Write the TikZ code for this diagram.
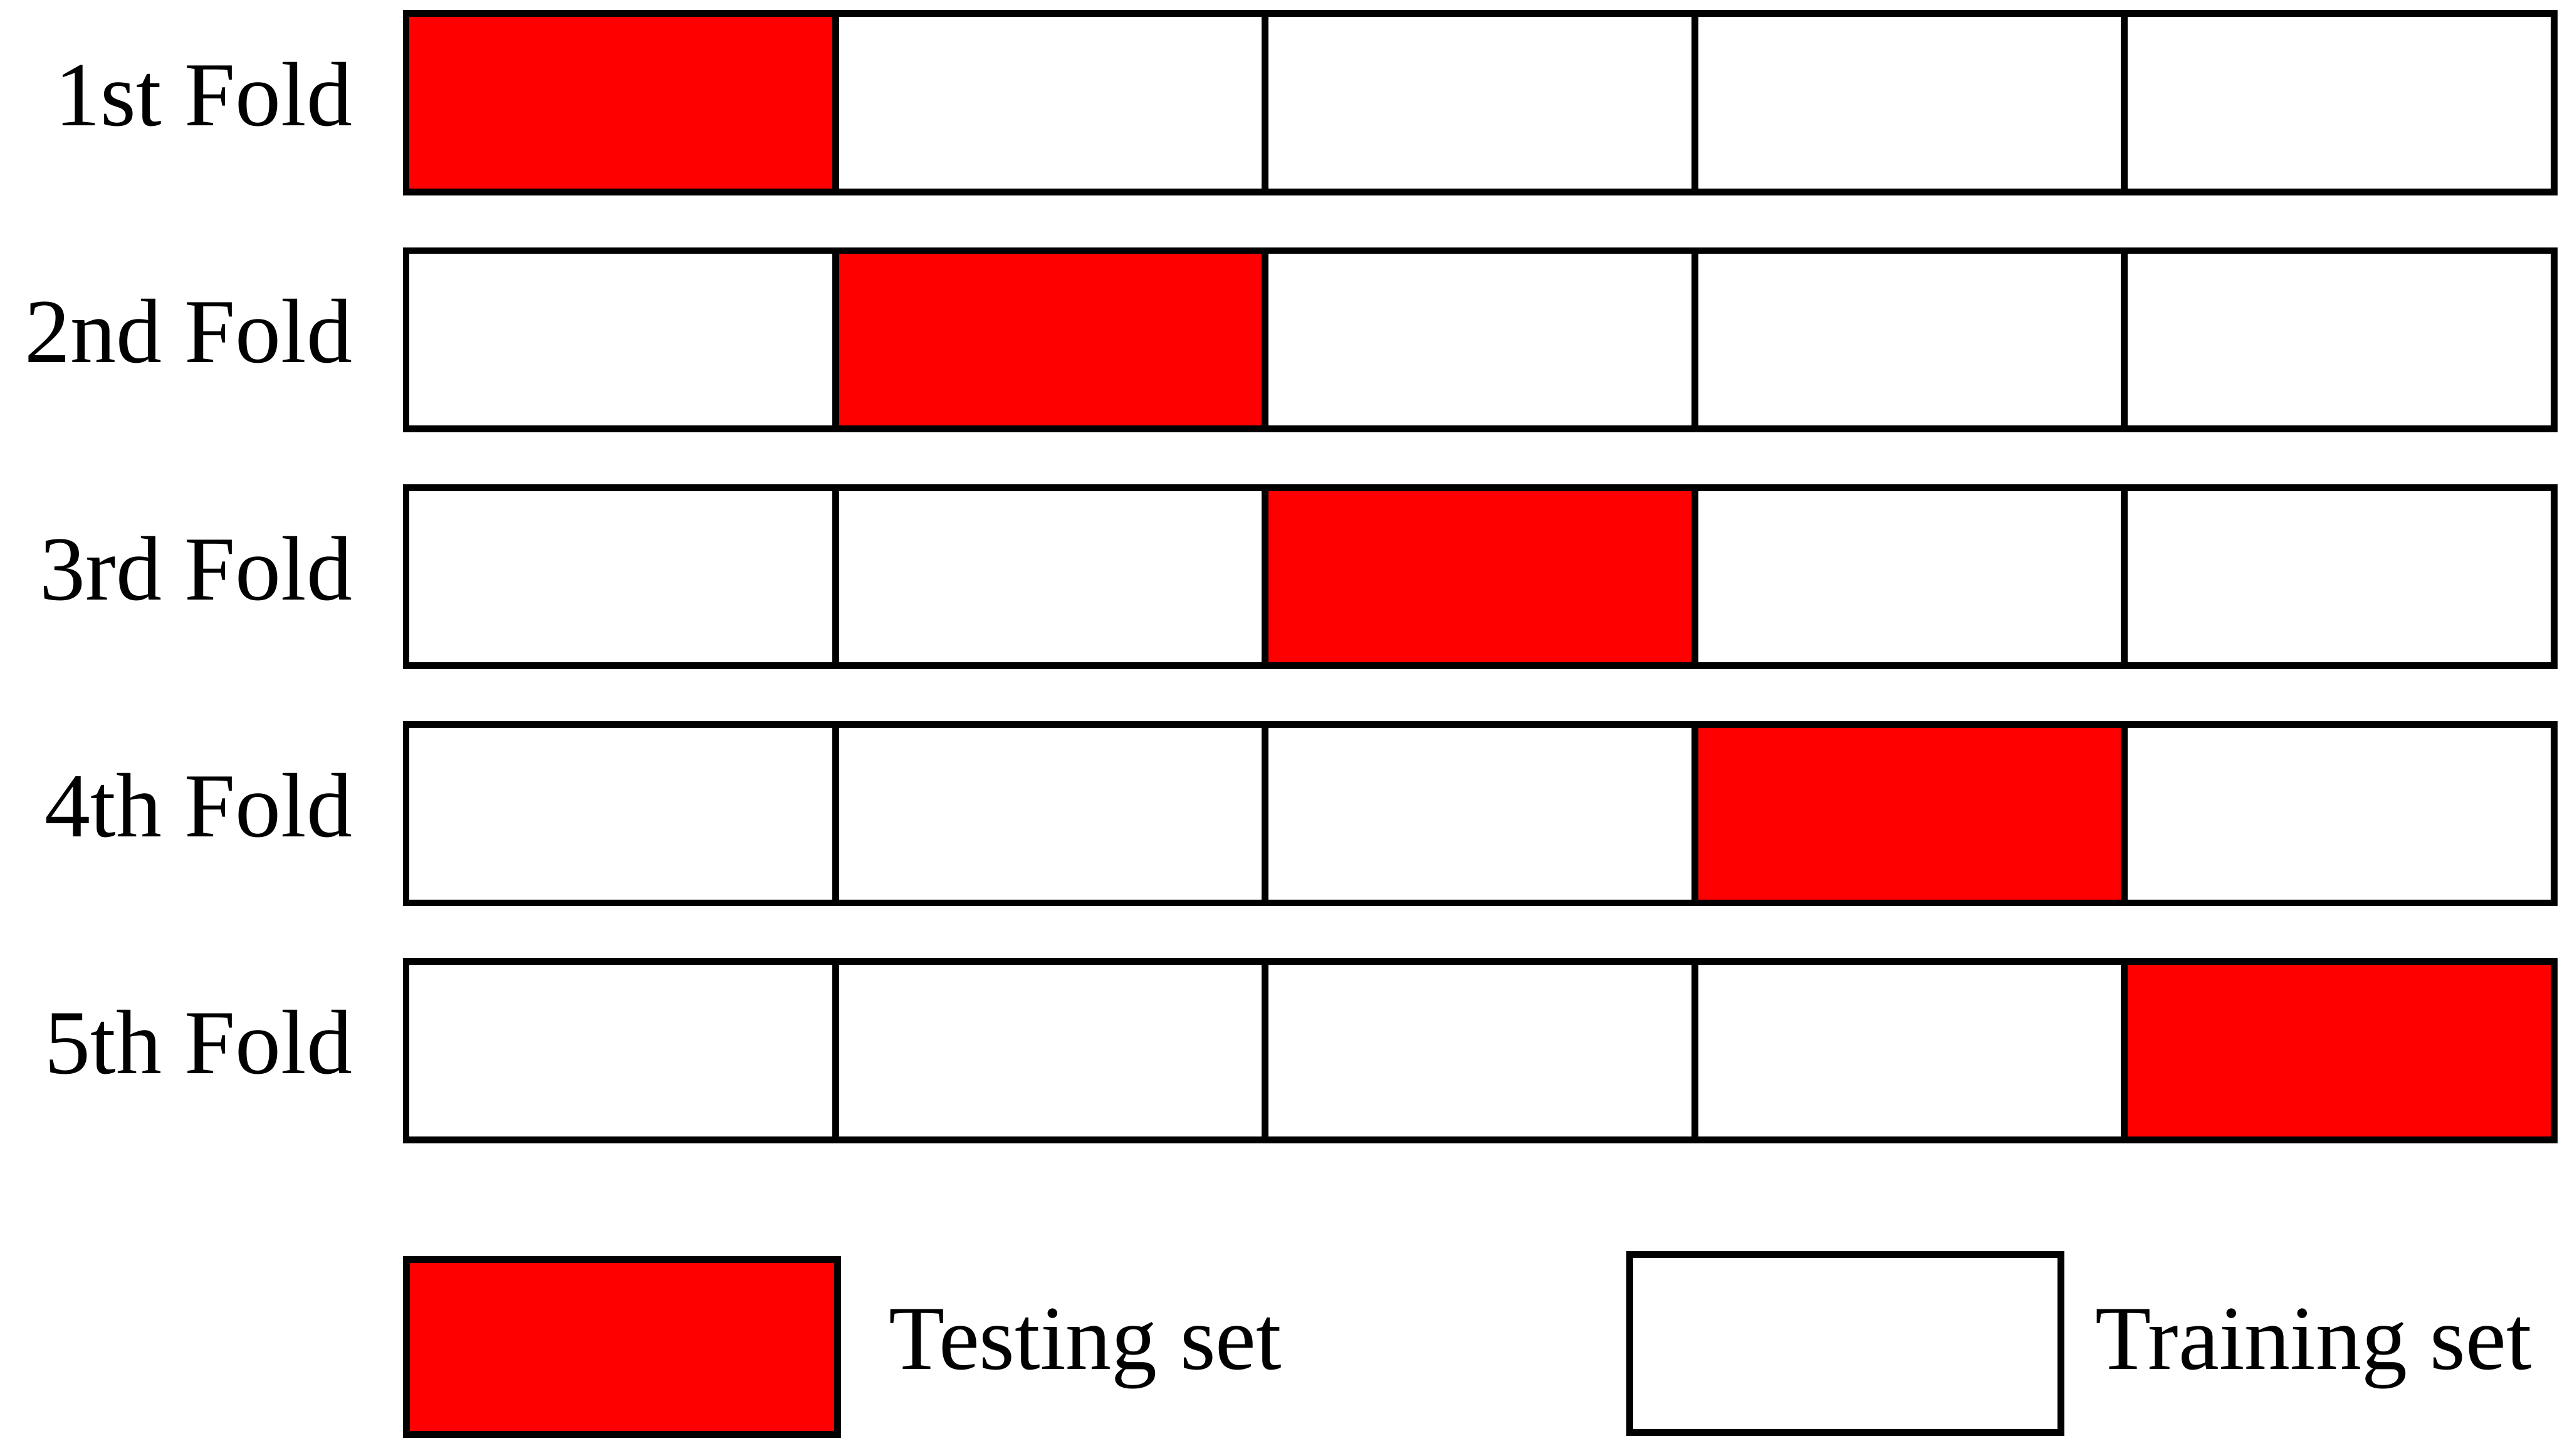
\documentclass[tikz,border=0pt]{standalone}
\usepackage{fontspec}
\setmainfont{Liberation Serif}
\begin{document}
\begin{tikzpicture}[x=1cm,y=1cm,
 cell/.style={draw=black, line width=3.4pt, fill=white, minimum width=7.51cm, minimum height=3.12cm, inner sep=0pt, outer sep=0pt, anchor=north west},
 test/.style={cell, fill=red},
 lbl/.style={font=\fontsize{45.5}{50}\selectfont, inner sep=0pt, anchor=base east}]
\useasboundingbox (0,0) rectangle (44.88,-25.46);
\foreach \r/\t in {1/1st,2/2nd,3/3rd,4/4th,5/5th} {
  \pgfmathsetmacro\ytop{-0.24-4.143*(\r-1)}
  \foreach \c in {1,...,5} {
     \pgfmathsetmacro\xl{7.10+7.51*(\c-1)}
     \ifnum\c=\r
       \node[test] (c\r\c) at (\xl,\ytop) {};
     \else
       \node[cell] (c\r\c) at (\xl,\ytop) {};
     \fi
  }
  \node[lbl] (l\r) at (6.17,\ytop-1.96) {\t\ Fold};
}
\node[test, minimum width=7.53cm, minimum height=3.06cm] (legtest) at (7.11,-22.03) {};
\node[lbl, anchor=base west] (legtesttxt) at (15.54,-23.95) {Testing set};
\node[cell, minimum width=7.54cm, minimum height=3.11cm] (legtrain) at (28.49,-21.94) {};
\node[lbl, anchor=base west] (legtraintxt) at (36.63,-23.95) {Training set};
\end{tikzpicture}
\end{document}
